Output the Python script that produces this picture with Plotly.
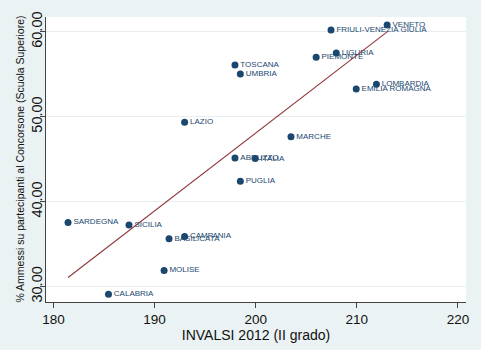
import numpy as np
import plotly.graph_objects as go

regions = ["VENETO", "FRIULI-VENEZIA GIULIA", "LIGURIA", "PIEMONTE", "TOSCANA", "UMBRIA",
           "LOMBARDIA", "EMILIA ROMAGNA", "LAZIO", "MARCHE", "ABRUZZO", "ITALIA", "PUGLIA",
           "SARDEGNA", "SICILIA", "CAMPANIA", "BASILICATA", "MOLISE", "CALABRIA"]
invalsi = [213.0, 207.45, 207.97, 205.98, 197.95, 198.48,
           211.94, 209.94, 192.97, 203.49, 197.95, 199.95, 198.48,
           181.44, 187.47, 192.97, 191.43, 190.94, 185.44]
ammessi = [60.81, 60.2, 57.49, 56.99, 56.1, 55.02,
           53.83, 53.25, 49.35, 47.65, 45.15, 45.07, 42.41,
           37.55, 37.24, 35.9, 35.62, 31.9, 29.1]
x_ticks = [180, 190, 200, 210, 220]
y_ticks = [30, 40, 50, 60]

xa = np.array(invalsi)
ya = np.array(ammessi)
slope, intercept = np.polyfit(xa, ya, 1)
fit_x = np.array([xa.min(), xa.max()])
fit_y = slope * fit_x + intercept

NAVY = "#1A476F"
MAROON = "#90353B"
BG = "#EAF2F3"
FONT = "Liberation Sans, Arial, sans-serif"

fig = go.Figure()
fig.add_trace(go.Scatter(
    x=invalsi, y=ammessi, mode="markers+text", text=regions,
    textposition="middle right",
    textfont=dict(family=FONT, size=8, color=NAVY),
    marker=dict(color=NAVY, size=7, line=dict(width=0)),
    showlegend=False, cliponaxis=False,
))
fig.add_trace(go.Scatter(
    x=fit_x, y=fit_y, mode="lines",
    line=dict(color=MAROON, width=1.1),
    showlegend=False,
))

fig.add_annotation(
    text="% Ammessi su partecipanti al Concorsone (Scuola Superiore)",
    xref="paper", yref="paper", x=-0.064, y=0.5, xanchor="center", yanchor="middle",
    textangle=-90, showarrow=False, font=dict(family=FONT, size=10.5, color="#111111"),
)

fig.update_layout(
    width=481, height=350,
    margin=dict(l=46, r=13, t=12, b=48),
    paper_bgcolor=BG, plot_bgcolor="white",
    font=dict(family=FONT, color="#111111"),
    xaxis=dict(
        range=[179.26, 220.8], tickvals=x_ticks, ticks="outside", ticklen=5,
        tickcolor="#444444", showline=True, linecolor="#444444", linewidth=1,
        showgrid=False, zeroline=False, tickfont=dict(size=13.5),
        title=dict(text="INVALSI 2012 (II grado)", font=dict(size=14), standoff=0),
    ),
    yaxis=dict(
        range=[28.18, 61.74], tickvals=y_ticks, tickformat=".2f", ticks="outside",
        ticklen=5, tickcolor="#444444", showline=True, linecolor="#444444", linewidth=1,
        showgrid=True, gridcolor="#E8EEF0", gridwidth=1, zeroline=False,
        tickangle=-90, tickfont=dict(size=14.5), ticklabelstandoff=-8,
    ),
)

fig.write_html("out.html")
